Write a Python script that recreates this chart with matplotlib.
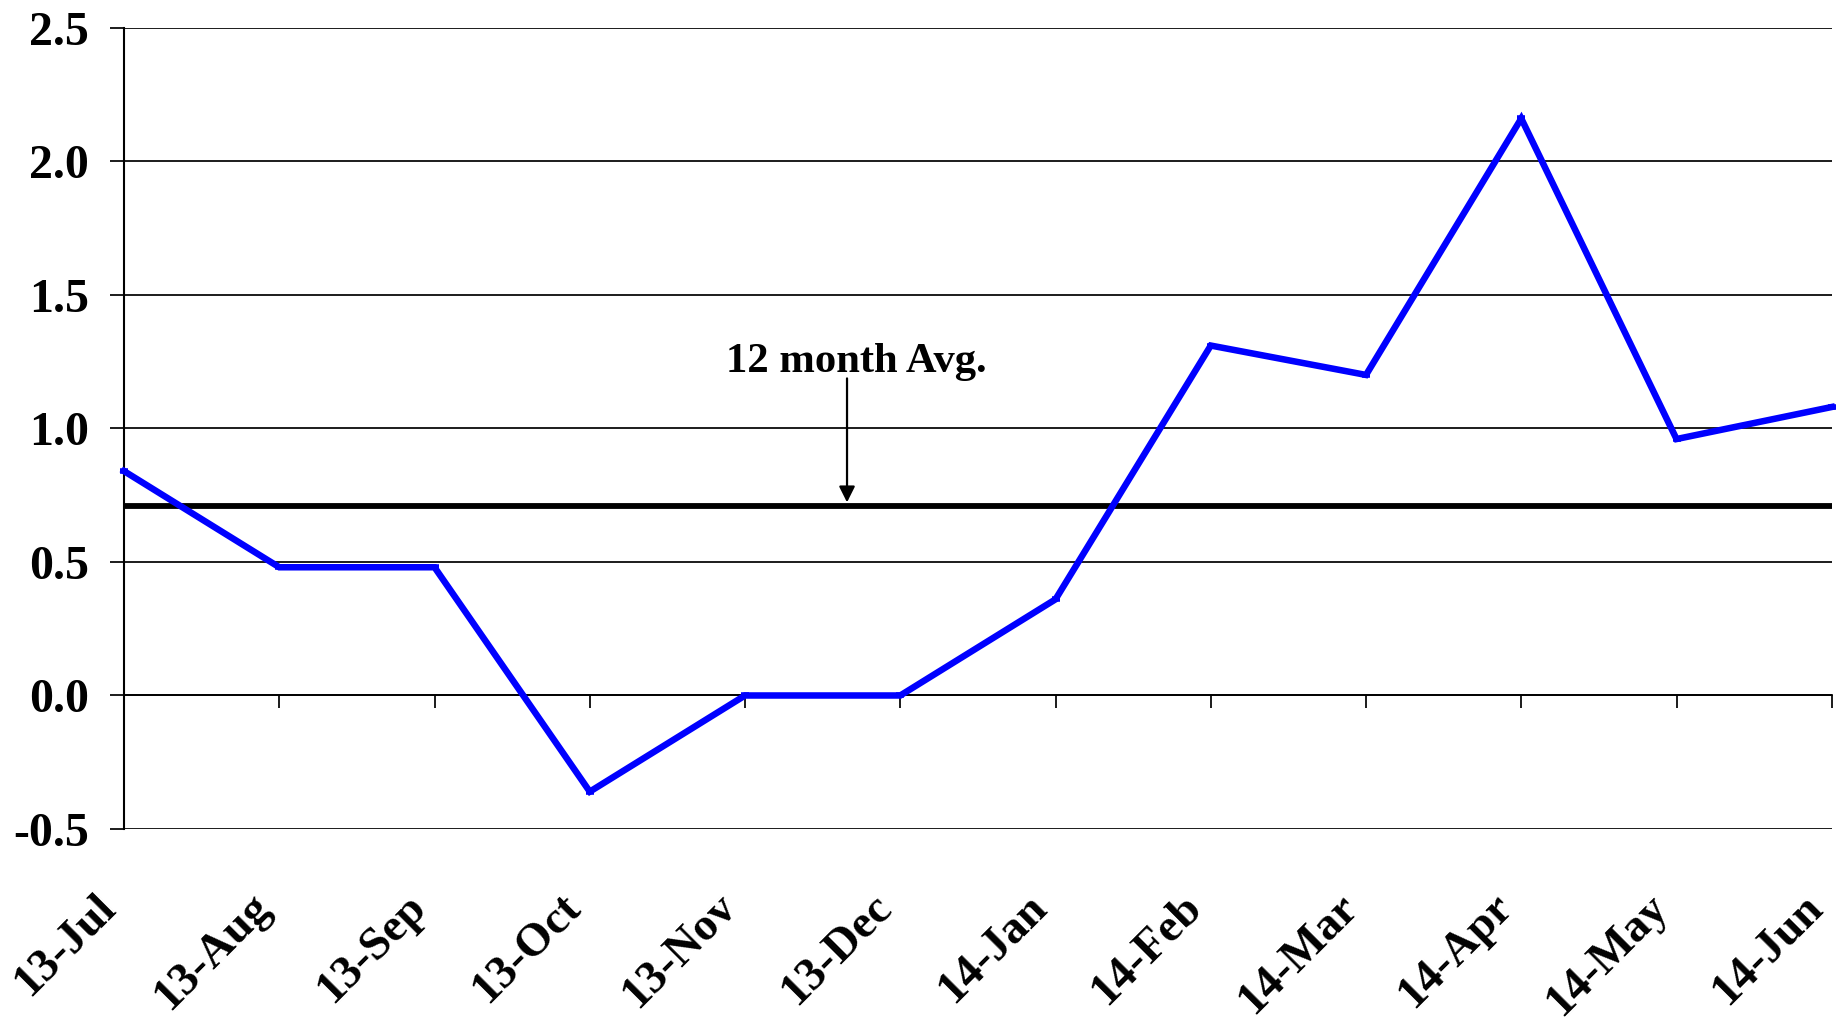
import matplotlib
matplotlib.use('Agg')
import matplotlib.pyplot as plt
from matplotlib.transforms import ScaledTranslation

plt.rcParams['font.family'] = ['Liberation Serif', 'DejaVu Serif']
plt.rcParams['font.weight'] = 'bold'
plt.rcParams['axes.unicode_minus'] = False

months = ['13-Jul', '13-Aug', '13-Sep', '13-Oct', '13-Nov', '13-Dec',
          '14-Jan', '14-Feb', '14-Mar', '14-Apr', '14-May', '14-Jun']
values = [0.84, 0.48, 0.48, -0.36, 0.0, 0.0, 0.36, 1.31, 1.20, 2.16, 0.96, 1.08]
avg_value = 0.71
y_ticks = [-0.5, 0.0, 0.5, 1.0, 1.5, 2.0, 2.5]
y_tick_labels = ['-0.5', '0.0', '0.5', '1.0', '1.5', '2.0', '2.5']
annot_text = '12 month Avg.'
annot_text_pos = (4.715, 1.25)
annot_arrow_x = 4.657
annot_arrow_start = 1.187

fig = plt.figure(figsize=(18.43, 10.21), dpi=100)
ax = fig.add_axes([0.0673, 0.188, 0.9266, 0.7849])

x = list(range(len(months)))
ax.plot(x, values, color='#0000FF', lw=4.7, marker='_', ms=6, mew=4,
        solid_joinstyle='miter', zorder=4, clip_on=False)
ax.axhline(avg_value, color='black', lw=4.2, zorder=3)

ax.set_xlim(0, len(months) - 1)
ax.set_ylim(-0.5, 2.5)
ax.set_yticks(y_ticks)
ax.set_yticklabels(y_tick_labels)
ax.yaxis.grid(True, color='black', lw=1.25)
ax.set_axisbelow(True)

for s in ['top', 'right']:
    ax.spines[s].set_visible(False)
ax.spines['bottom'].set_position(('data', 0))
ax.spines['bottom'].set_linewidth(1.25)
ax.spines['left'].set_linewidth(1.5)

ax.tick_params(axis='y', length=10, width=1.25, pad=15, labelsize=34.5, direction='out')
ax.tick_params(axis='x', length=9.5, width=1.25, pad=138.5, direction='out')
ax.set_xticks(x)
ax.set_xticklabels(months, rotation=45, ha='right', va='center',
                   rotation_mode='anchor', fontsize=33.5, fontweight='bold')
shift = ScaledTranslation(-0.15, 0, fig.dpi_scale_trans)
for lab in ax.get_xticklabels():
    lab.set_transform(lab.get_transform() + shift)

ax.text(annot_text_pos[0], annot_text_pos[1], annot_text, ha='center', va='center',
        fontsize=30.7, fontweight='bold')
ax.annotate('', xy=(annot_arrow_x, avg_value), xytext=(annot_arrow_x, annot_arrow_start),
            arrowprops=dict(arrowstyle='-|>', color='black', lw=1.6,
                            mutation_scale=24, shrinkA=0, shrinkB=2.5))

fig.savefig('out.png', dpi=100)
